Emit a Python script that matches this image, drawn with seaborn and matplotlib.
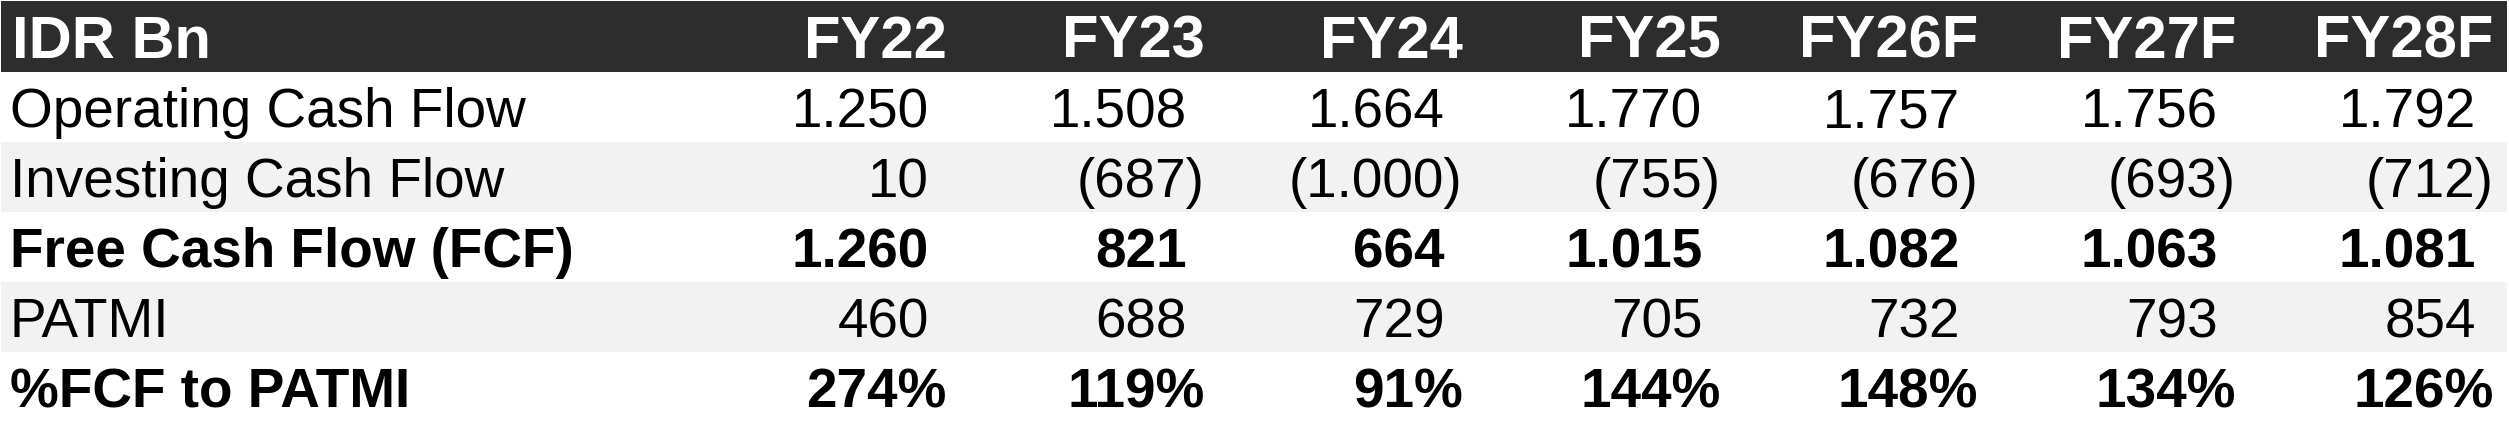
import matplotlib
matplotlib.use("Agg")
import matplotlib.pyplot as plt
import seaborn as sns

# Table data (IDR Bn)
years = ["FY22", "FY23", "FY24", "FY25", "FY26F", "FY27F", "FY28F"]
row_labels = ["Operating Cash Flow", "Investing Cash Flow", "Free Cash Flow (FCF)",
              "PATMI", "%FCF to PATMI"]
operating_cf = [1250, 1508, 1664, 1770, 1757, 1756, 1792]
investing_cf = [10, -687, -1000, -755, -676, -693, -712]
free_cf = [1260, 821, 664, 1015, 1082, 1063, 1081]
patmi = [460, 688, 729, 705, 732, 793, 854]
fcf_to_patmi = [274, 119, 91, 144, 148, 134, 126]

bold_rows = [False, False, True, False, True]
band_colors = ["#ffffff", "#f2f2f2", "#ffffff", "#f2f2f2", "#ffffff"]


def fmt_num(v):
    s = f"{abs(v):,}".replace(",", ".")
    return f"({s})" if v < 0 else s


sns.set_theme(style="white")
plt.rcParams["font.family"] = ["Liberation Sans", "DejaVu Sans"]

W, H = 2509, 424
fig = plt.figure(figsize=(W / 100, H / 100), dpi=100)
ax = fig.add_axes([0, 0, 1, 1])
ax.set_xlim(0, W)
ax.set_ylim(H, 0)
ax.axis("off")

header_h = 71
row_h = 70
col_right0 = 947
col_step = 257.8
paren_pad = 18
body_size = 39.5
head_size = 43

# header band
ax.add_patch(plt.Rectangle((1, 1), W - 3, header_h, color="#2d2d2d", lw=0))
ax.text(12, 58, "IDR Bn", color="white", fontsize=head_size, fontweight="bold",
        ha="left", va="baseline")
for i, yr in enumerate(years):
    ax.text(col_right0 + col_step * i, 58, yr, color="white", fontsize=head_size,
            fontweight="bold", ha="right", va="baseline")

rows = [
    [fmt_num(v) for v in operating_cf],
    [fmt_num(v) for v in investing_cf],
    [fmt_num(v) for v in free_cf],
    [fmt_num(v) for v in patmi],
    [f"{v}%" for v in fcf_to_patmi],
]

for j, (label, cells) in enumerate(zip(row_labels, rows)):
    top = 1 + header_h + row_h * j
    ax.add_patch(plt.Rectangle((1, top), W - 3, row_h, color=band_colors[j], lw=0))
    weight = "bold" if bold_rows[j] else "normal"
    base = top + 55
    ax.text(10, base, label, color="black", fontsize=body_size, fontweight=weight,
            ha="left", va="baseline")
    for i, txt in enumerate(cells):
        x = col_right0 + col_step * i
        if not (txt.endswith(")") or txt.endswith("%")):
            x -= paren_pad
        ax.text(x, base, txt, color="black", fontsize=body_size, fontweight=weight,
                ha="right", va="baseline")

fig.savefig("out.png", dpi=100, facecolor="white")
